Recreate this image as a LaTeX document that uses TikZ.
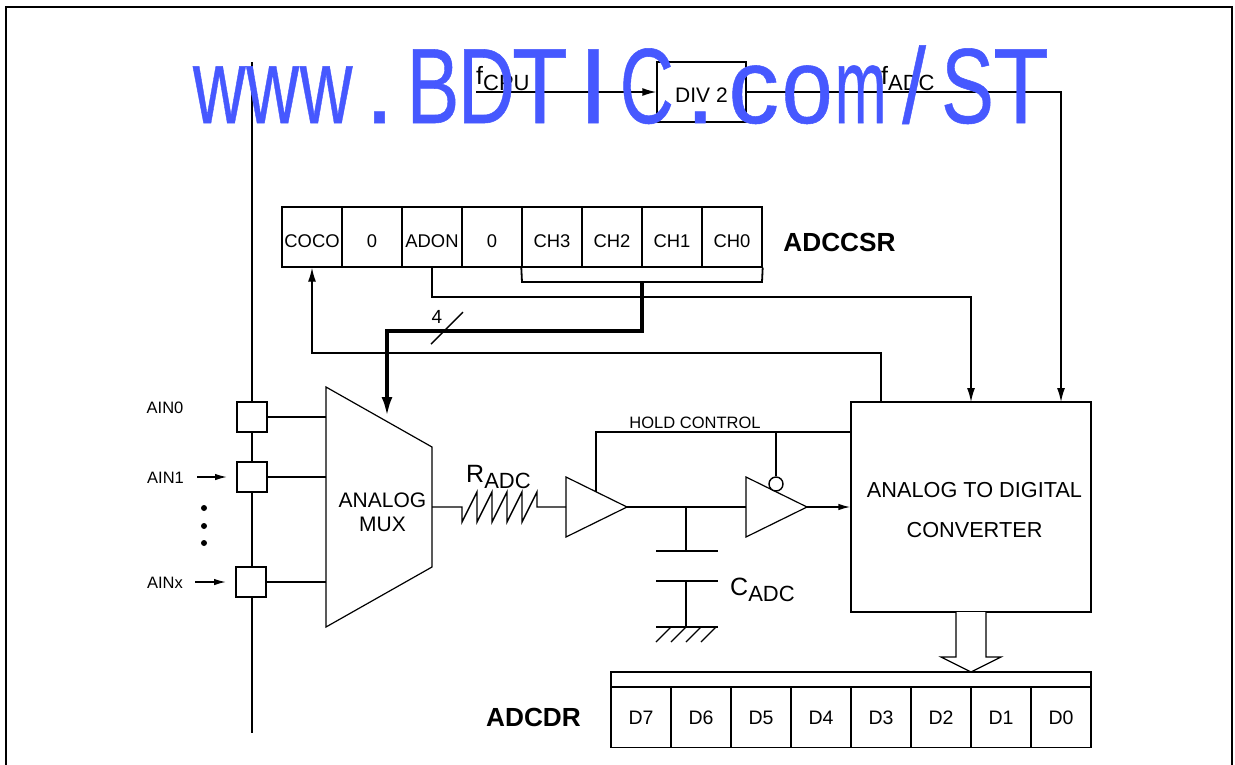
\documentclass[tikz,border=0pt]{standalone}
\usepackage{fontspec}
\setmainfont{Liberation Sans}
\newfontfamily\wmfont[FakeBold=0.5]{Liberation Sans}
\usetikzlibrary{arrows.meta}
\definecolor{wmblue}{RGB}{70,88,255}
\newcommand\wc[2]{\makebox[53.45pt][c]{\scalebox{#1}[1]{#2}}}
\newcommand\dn[1]{\raisebox{-10.6pt}[0pt][0pt]{#1}}
\tikzset{
  wire/.style={line width=1.4pt,line join=miter},
  bus/.style={line width=3.4pt,line join=miter},
  outline/.style={line width=1.2pt,line join=miter},
  tip/.style={-{Latex[length=14pt,width=8pt]}},
  smalltip/.style={-{Latex[length=12pt,width=6.5pt]}},
  bustip/.style={-{Latex[length=19pt,width=11pt]}},
  cell/.style={draw,line width=1.4pt,minimum width=60pt,minimum height=60pt,inner sep=0pt,font=\fontsize{18.4}{20}\selectfont},
  dcell/.style={cell,font=\fontsize{19.5}{22}\selectfont},
  pad/.style={draw,line width=1.4pt,fill=white,minimum width=30pt,minimum height=30pt,inner sep=0pt},
  lbl/.style={inner sep=0pt,font=\fontsize{16.5}{18}\selectfont},
  big/.style={inner sep=0pt,align=center,font=\fontsize{21}{40}\selectfont},
  conv text/.style={inner sep=0pt,align=center,font=\fontsize{21.7}{40}\selectfont},
  sym/.style={inner sep=0pt,font=\fontsize{25}{28}\selectfont},
  regname/.style={inner sep=0pt,font=\fontsize{26.2}{28}\selectfont\bfseries},
  dot/.style={circle,fill=black,minimum size=6pt,inner sep=0pt},
  bubble/.style={circle,draw,line width=1.4pt,fill=white,minimum size=14pt,inner sep=0pt},
}
\newcommand\symb[2]{#1\raisebox{-6pt}{\fontsize{22}{24}\selectfont #2}}
\begin{document}
\begin{tikzpicture}[x=1pt,y=-1pt]
\useasboundingbox (0,0) rectangle (1235,764);
\begin{scope}
\clip (0,0) rectangle (1235,764);
\draw[line width=2pt] (6,770) -- (6,7) -- (1232,7) -- (1232,770);
\end{scope}
% bus line and input pads
\coordinate (railtop) at (252,62);
\coordinate (railend) at (252,733);
\draw[wire] (railtop) -- (railend);
\node[pad] (ain0) at (252,417) {};
\node[pad] (ain1) at (252,477) {};
\node[pad] (ainx) at (251,582) {};
\node[lbl] (l0) at (165,408) {AIN0};
\node[lbl] (l1) at (165.5,478) {AIN1};
\node[lbl] (lx) at (165,583) {AINx};
\coordinate (a1s) at (197,477); \coordinate (a1e) at (227,477);
\coordinate (axs) at (195,582); \coordinate (axe) at (226,582);
\draw[wire,smalltip] (a1s) -- (a1e);
\draw[wire,smalltip] (axs) -- (axe);
\node[dot] (d1) at (204,508) {};
\node[dot] (d2) at (204,526) {};
\node[dot] (d3) at (204,543) {};
% mux
\coordinate (m1) at (326,387); \coordinate (m2) at (432,447);
\coordinate (m3) at (432,567); \coordinate (m4) at (326,627);
\draw[outline] (m1) -- (m2) -- (m3) -- (m4) -- cycle;
\node[big] (mux) at (382.5,512) {ANALOG\\[-16pt]MUX};
\draw[wire] (ain0) -- (ain0 -| m1);
\draw[wire] (ain1) -- (ain1 -| m1);
\draw[wire] (ainx) -- (ainx -| m1);
% clock
\node[draw,line width=1.4pt,minimum width=89pt,minimum height=60pt,inner sep=0pt,font=\fontsize{21}{24}\selectfont] (div) at (701.5,92) {\raisebox{-10.5pt}[0pt][0pt]{DIV 2}};
\coordinate (cpu) at (476,92);
\draw[wire,tip] (cpu) -- (div);
\node[sym,anchor=base west] (fcpu) at (476,84) {\symb{f}{CPU}};
\node[sym,anchor=base west] (fadc) at (881,84) {\symb{f}{ADC}};
% ADCCSR
\node[cell] (coco) at (312,237) {\dn{COCO}};
\node[cell] (b6) at (372,237) {\dn{0}};
\node[cell] (adon) at (432,237) {\dn{ADON}};
\node[cell] (b4) at (492,237) {\dn{0}};
\node[cell] (ch3) at (552,237) {\dn{CH3}};
\node[cell] (ch2) at (612,237) {\dn{CH2}};
\node[cell] (ch1) at (672,237) {\dn{CH1}};
\node[cell] (ch0) at (732,237) {\dn{CH0}};
\node[regname] (csr) at (839.5,242) {ADCCSR};
% converter
\node[draw,line width=1.4pt,minimum width=240pt,minimum height=210pt,inner sep=0pt] (conv) at (971,507) {};
\node[conv text] (convt) at (974.5,510) {ANALOG TO DIGITAL\\CONVERTER};
\draw[wire,tip] (div.east) -- (1061,92) -- (1061,402);
\draw[wire,tip] (adon.south) -- (432,297) -- (971,297) -- (971,402);
\draw[wire,tip] (881,402) -- (881,353) -- (312,353) -- (coco.south);
\coordinate (brl) at (522,282);
\coordinate (brr) at (762,282);
\draw[line width=1.8pt,line join=miter] (ch3.south west) -- (brl) -- (brr) -- (ch0.south east);
\coordinate (busstart) at (642,282);
\coordinate (busend) at (387,416);
\draw[bus,bustip] (busstart) -- (642,331) -- (387,331) -- (busend);
\coordinate (sl1) at (431,344); \coordinate (sl2) at (463,312);
\draw[wire] (sl1) -- (sl2);
\node[lbl,font=\fontsize{19}{20}\selectfont] (four) at (437,317) {4};
% resistor
\node[sym,anchor=base west] (radc) at (466,482) {\symb{R}{ADC}};
\draw[wire] (432,507) -- (462,507) -- (462,522) -- (477,492) -- (477,522) -- (492,492) -- (492,522) -- (507,492) -- (507,522) -- (522,492) -- (522,522) -- (537,492) -- (537,507) -- (566,507);
% buffers
\coordinate (b1a) at (566,477); \coordinate (b1b) at (566,537); \coordinate (b1c) at (627,507);
\coordinate (b2a) at (746,477); \coordinate (b2b) at (746,537); \coordinate (b2c) at (807,507);
\draw[outline] (b1a) -- (b1c) -- (b1b) -- cycle;
\draw[outline] (b2a) -- (b2c) -- (b2b) -- cycle;
\draw[wire] (b1c) -- (b2a |- b1c);
\draw[wire,smalltip] (b2c) -- (conv.west |- b2c);
% hold control
\coordinate (h1) at (596,492);
\coordinate (h2) at (596,432);
\draw[wire] (h1) -- (h2) -- (conv.west |- h2);
\node[lbl,font=\fontsize{16.5}{18}\selectfont] (hold) at (695,423) {HOLD CONTROL};
\node[bubble] (bub) at (776,484) {};
\draw[wire] (bub.north) -- (bub.north |- h2);
% capacitor
\coordinate (c0) at (686,507);
\coordinate (c1) at (686,551);
\coordinate (c2) at (686,581);
\coordinate (c3) at (686,627);
\draw[wire] (c0) -- (c1);
\draw[wire] (656,551) -- (718,551);
\draw[wire] (656,581) -- (718,581);
\draw[wire] (c2) -- (c3);
\draw[wire] (656,627) -- (718,627);
\foreach \xx in {656,671,686,701} \draw[line width=1.1pt] (\xx,642) -- (\xx+15,627);
\node[sym,anchor=base west] (cadc) at (730,595) {\symb{C}{ADC}};
% ADCDR
\node[draw,line width=1.4pt,minimum width=480pt,minimum height=15pt,inner sep=0pt] (dtop) at (851,679.5) {};
\node[dcell] (d7) at (641,717.5) {D7};
\node[dcell] (d6) at (701,717.5) {D6};
\node[dcell] (d5) at (761,717.5) {D5};
\node[dcell] (d4) at (821,717.5) {D4};
\node[dcell] (d3x) at (881,717.5) {D3};
\node[dcell] (d2x) at (941,717.5) {D2};
\node[dcell] (d1x) at (1001,717.5) {D1};
\node[dcell] (d0) at (1061,717.5) {D0};
\node[regname] (dr) at (533.5,717) {ADCDR};
\draw[outline,fill=white] (956,612) -- (956,657) -- (941,657) -- (971,672) -- (1001,657) -- (986,657) -- (986,612);
% watermark
\node[text=wmblue,inner sep=0pt,anchor=base,font=\wmfont\fontsize{107}{110}\selectfont] (wm) at (620.1,123)
 {\wc{.68}{w}\wc{.68}{w}\wc{.68}{w}\wc{1}{.}\wc{.74}{B}\wc{.74}{D}\wc{.85}{T}\wc{1}{I}\wc{.70}{C}\wc{1}{.}\wc{.95}{c}\wc{.86}{o}\wc{.58}{m}\wc{.8}{/}\wc{.74}{S}\wc{.85}{T}};
\end{tikzpicture}
\end{document}
